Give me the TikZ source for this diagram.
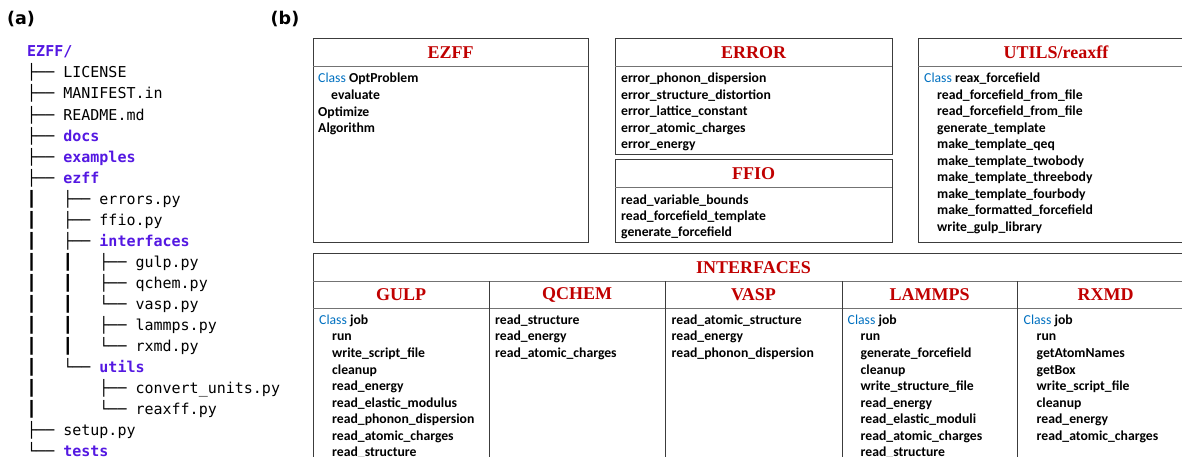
\documentclass[tikz,border=0pt]{standalone}
\usepackage{fontspec}
\usepackage{tikz}
\setmainfont{Carlito}
\newfontfamily\titlefont{Liberation Serif}
\newfontfamily\treefont{DejaVu Sans Mono}
\newfontfamily\labelfont{DejaVu Sans}

\definecolor{titlered}{RGB}{192,0,0}
\definecolor{classblue}{RGB}{0,112,192}
\definecolor{dirpurple}{RGB}{84,24,226}
\definecolor{boxline}{RGB}{60,60,60}
\definecolor{sepline}{RGB}{115,115,115}

\newcommand{\cls}{{\mdseries\color{classblue}Class} }
\newcommand{\ind}{\hspace*{13pt}}
\newcommand{\dirn}[1]{{\bfseries\color{dirpurple}#1}}

\tikzset{
  item/.style={anchor=mid west, inner sep=0pt, font=\fontsize{13.7}{16}\selectfont\bfseries},
  boxtitle/.style={inner sep=0pt, text=titlered, font=\titlefont\fontsize{18}{20}\selectfont\bfseries},
  row/.style={anchor=mid west, inner sep=0pt, font=\treefont\fontsize{15}{18}\selectfont},
  panel/.style={inner sep=0pt, font=\labelfont\fontsize{17.5}{20}\selectfont\bfseries},
  frame/.style={draw=boxline, line width=0.9pt},
  sep/.style={draw=sepline, line width=0.9pt}
}

\begin{document}
\begin{tikzpicture}[x=1pt,y=-1pt]
  \clip (0,0) rectangle (1182,457);

  % panel labels
  \node[panel] (lbla) at (21,19.5) {(a)};
  \node[panel] (lblb) at (285,19.5) {(b)};

  % (a) directory tree
  \foreach \t [count=\i from 0] in {
      \dirn{EZFF/},
      ├──~LICENSE,
      ├──~MANIFEST.in,
      ├──~README.md,
      ├──~\dirn{docs},
      ├──~\dirn{examples},
      ├──~\dirn{ezff},
      ┃~~~├──~errors.py,
      ┃~~~├──~ffio.py,
      ┃~~~├──~\dirn{interfaces},
      ┃~~~┃~~~├──~gulp.py,
      ┃~~~┃~~~├──~qchem.py,
      ┃~~~┃~~~└──~vasp.py,
      ┃~~~┃~~~├──~lammps.py,
      ┃~~~┃~~~└──~rxmd.py,
      ┃~~~└──~\dirn{utils},
      ┃~~~~~~~├──~convert\_units.py,
      ┃~~~~~~~└──~reaxff.py,
      ├──~setup.py,
      └──~\dirn{tests}}
    \node[row] (tree\i) at (27, 54.5+21.05*\i) {\t};

  % (b) EZFF
  \draw[frame] (313,38) rectangle (588,242);
  \draw[sep] (313,66) -- (588,66);
  \node[boxtitle] (ezffT) at (450.5,52.5) {EZFF};
  \foreach \t [count=\i from 0] in {{\cls OptProblem}, {\ind evaluate}, Optimize, Algorithm}
    \node[item] (ezff\i) at (318, 80.5+16.6*\i) {\t};

  % ERROR
  \draw[frame] (615,38) rectangle (892,154);
  \draw[sep] (615,66) -- (892,66);
  \node[boxtitle] (errT) at (753.5,52.5) {ERROR};
  \foreach \t [count=\i from 0] in {error\_phonon\_dispersion, error\_structure\_distortion,
      error\_lattice\_constant, error\_atomic\_charges, error\_energy}
    \node[item] (err\i) at (621, 80.5+16.5*\i) {\t};

  % FFIO
  \draw[frame] (615,159) rectangle (892,242);
  \draw[sep] (615,187) -- (892,187);
  \node[boxtitle] (ffioT) at (753.5,173.5) {FFIO};
  \foreach \t [count=\i from 0] in {read\_variable\_bounds, read\_forcefield\_template, generate\_forcefield}
    \node[item] (ffio\i) at (621, 202+16.2*\i) {\t};

  % UTILS/reaxff
  \draw[frame] (918,38) rectangle (1194,242);
  \draw[sep] (918,66) -- (1194,66);
  \node[boxtitle] (utilT) at (1056,52.5) {UTILS/reaxff};
  \foreach \t [count=\i from 0] in {{\cls reax\_forcefield}, {\ind read\_forcefield\_from\_file},
      {\ind read\_forcefield\_from\_file}, {\ind generate\_template}, {\ind make\_template\_qeq},
      {\ind make\_template\_twobody}, {\ind make\_template\_threebody}, {\ind make\_template\_fourbody},
      {\ind make\_formatted\_forcefield}, {\ind write\_gulp\_library}}
    \node[item] (util\i) at (924, 80.5+16.48*\i) {\t};

  % INTERFACES
  \draw[frame] (313,253) rectangle (1194,480);
  \draw[sep] (313,281) -- (1194,281);
  \draw[sep] (313,308) -- (1194,308);
  \foreach \x in {489,665,842,1017}
    \draw[frame] (\x,281) -- (\x,480);
  \node[boxtitle] (intfT) at (753.5,267.5) {INTERFACES};
  \foreach \n/\x in {GULP/401, QCHEM/577, VASP/753.5, LAMMPS/929.5, RXMD/1105.5}
    \node[boxtitle] (\n T) at (\x,295) {\n};

  \foreach \t [count=\i from 0] in {{\cls job}, {\ind run}, {\ind write\_script\_file}, {\ind cleanup},
      {\ind read\_energy}, {\ind read\_elastic\_modulus}, {\ind read\_phonon\_dispersion},
      {\ind read\_atomic\_charges}, {\ind read\_structure}}
    \node[item] (gulp\i) at (319, 322+16.55*\i) {\t};
  \foreach \t [count=\i from 0] in {read\_structure, read\_energy, read\_atomic\_charges}
    \node[item] (qchem\i) at (495, 322+16.55*\i) {\t};
  \foreach \t [count=\i from 0] in {read\_atomic\_structure, read\_energy, read\_phonon\_dispersion}
    \node[item] (vasp\i) at (671.5, 322+16.55*\i) {\t};
  \foreach \t [count=\i from 0] in {{\cls job}, {\ind run}, {\ind generate\_forcefield}, {\ind cleanup},
      {\ind write\_structure\_file}, {\ind read\_energy}, {\ind read\_elastic\_moduli},
      {\ind read\_atomic\_charges}, {\ind read\_structure}}
    \node[item] (lmp\i) at (847.5, 322+16.55*\i) {\t};
  \foreach \t [count=\i from 0] in {{\cls job}, {\ind run}, {\ind getAtomNames}, {\ind getBox},
      {\ind write\_script\_file}, {\ind cleanup}, {\ind read\_energy}, {\ind read\_atomic\_charges}}
    \node[item] (rxmd\i) at (1023.5, 322+16.55*\i) {\t};
\end{tikzpicture}
\end{document}
